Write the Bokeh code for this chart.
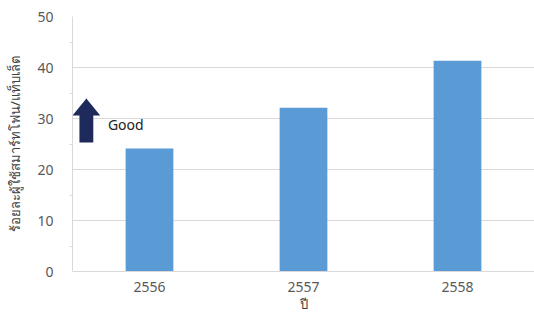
from bokeh.plotting import figure
from bokeh.models import Range1d, FixedTicker, ColumnDataSource
from bokeh.embed import file_html
from bokeh.resources import INLINE
from bokeh.core.properties import value

years = ["2556", "2557", "2558"]
percent = [24.1, 32.1, 41.3]
y_ticks = [0, 10, 20, 30, 40, 50]

xs = [i + 0.5 for i in range(len(years))]

p = figure(width=534, height=320, output_backend="svg", toolbar_location=None,
           x_range=Range1d(0, len(years)), y_range=Range1d(0, 50))
p.min_border_left = 72
p.min_border_right = 0
p.min_border_top = 16
p.min_border_bottom = 49
p.outline_line_color = None
p.background_fill_color = "white"

src = ColumnDataSource(dict(x=xs, top=percent))
p.vbar(x="x", top="top", width=0.31, bottom=0, source=src,
       fill_color="#5B9BD5", line_color=None)

# axes
p.xaxis.ticker = FixedTicker(ticks=xs)
p.xaxis.major_label_overrides = {x: y for x, y in zip(xs, years)}
p.xaxis.major_tick_line_color = None
p.xaxis.minor_tick_line_color = None
p.xaxis.axis_line_color = "#d9d9d9"
p.xaxis.major_label_text_font = "Noto Sans"
p.xaxis.major_label_text_font_size = "14px"
p.xaxis.major_label_text_color = "#595959"
p.xaxis.major_label_standoff = 4
p.xaxis.axis_label = "ปี"
p.xaxis.axis_label_text_font = "Noto Sans"
p.xaxis.axis_label_text_font_style = "normal"
p.xaxis.axis_label_text_font_size = "13px"
p.xaxis.axis_label_text_color = "#404040"
p.xaxis.axis_label_standoff = 0

p.yaxis.ticker = FixedTicker(ticks=y_ticks, minor_ticks=[5, 15, 25, 35, 45])
p.yaxis.axis_line_color = "#d9d9d9"
p.yaxis.major_tick_line_color = None
p.yaxis.minor_tick_line_color = "#d9d9d9"
p.yaxis.minor_tick_in = 0
p.yaxis.minor_tick_out = 3
p.yaxis.major_label_text_font = "Noto Sans"
p.yaxis.major_label_text_font_size = "14px"
p.yaxis.major_label_text_color = "#595959"
p.yaxis.major_label_standoff = 13
p.yaxis.axis_label = "ร้อยละผู้ใช้สมาร์ทโฟน/แท็บเล็ต"
p.yaxis.axis_label_text_font = "Noto Sans"
p.yaxis.axis_label_text_font_style = "normal"
p.yaxis.axis_label_text_font_size = "13px"
p.yaxis.axis_label_text_color = "#404040"
p.yaxis.axis_label_standoff = 10

p.xgrid.grid_line_color = None
p.ygrid.ticker = FixedTicker(ticks=[10, 20, 30, 40])
p.ygrid.grid_line_color = "#d9d9d9"

# "Good" arrow annotation
ax = 0.09
p.patch(x=[ax - 0.045, ax + 0.045, ax + 0.045, ax + 0.09, ax, ax - 0.09, ax - 0.045, ax - 0.045],
        y=[25.3, 25.3, 30.6, 30.6, 33.9, 30.6, 30.6, 25.3],
        fill_color="#1F2A5C", line_color=None)
p.text(x=[0.23], y=[28.9], text=["Good"], text_font=value("Noto Sans"),
       text_font_size="14px", text_color="#222222", text_baseline="middle")

open("out.html", "w").write(file_html(p, INLINE))
